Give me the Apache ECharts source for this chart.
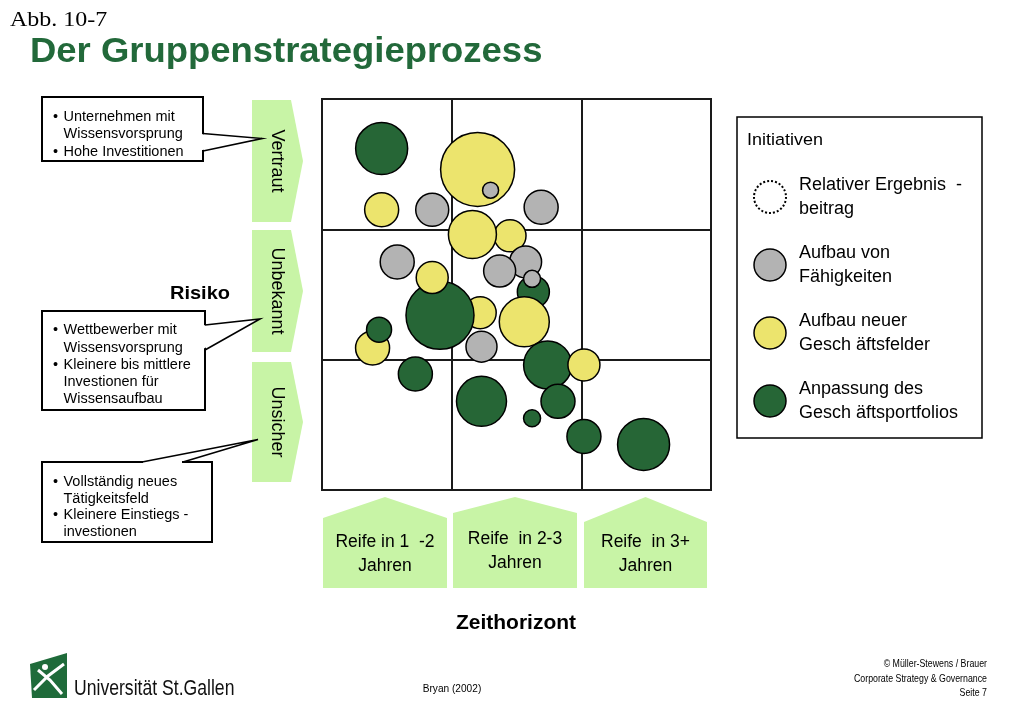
<!DOCTYPE html>
<html><head><meta charset="utf-8">
<script src="https://cdn.jsdelivr.net/npm/echarts@6.0.0/dist/echarts.min.js"></script>
<style>html,body{margin:0;padding:0;background:#fff;}#main{width:1023px;height:708px;}</style>
</head><body><div id="main"></div>
<script>
// ---------------- data ----------------
const categories = ['Relativer Ergebnis  -\nbeitrag', 'Aufbau von\nFähigkeiten', 'Aufbau neuer\nGesch äftsfelder', 'Anpassung des\nGesch äftsportfolios'];
const xLabels = ['Reife in 1  -2\nJahren', 'Reife  in 2-3\nJahren', 'Reife  in 3+\nJahren'];
const yLabels = ['Unsicher', 'Unbekannt', 'Vertraut']; // bottom to top
const xTitle = 'Zeithorizont';
const yTitle = 'Risiko';
const legendTitle = 'Initiativen';
// Initiatives in drawing order: Zeithorizont (0-3), Risiko (0-3), relativer Ergebnisbeitrag, Typ (1 Fähigkeiten, 2 Geschäftsfelder, 3 Portfolio)
const initZeit    = [0.46,0.46,0.85,1.20,1.30,1.69,1.45,1.16,0.58,1.57,1.37,1.63,1.62,1.22,0.91,0.85,1.56,0.39,0.44,1.23,1.74,2.02,1.82,0.72,1.23,1.62,2.02,2.48];
const initRisiko  = [2.62,2.15,2.15,2.46,2.30,2.17,1.95,1.96,1.75,1.75,1.68,1.52,1.62,1.36,1.34,1.63,1.29,1.09,1.23,1.10,0.96,0.96,0.68,0.89,0.68,0.55,0.41,0.35];
const initBeitrag = [26,17,16.5,37,8,17,16,24,17,16,16,16,8.5,16,34,16,25,17,12.5,15.5,24,16,17,17,25,8.5,17,26];
const initTyp     = [3,2,1,2,1,1,2,2,1,1,1,3,1,2,3,2,2,2,3,1,3,2,3,3,3,3,3,3];
const calloutTexts = [
  [['•','Unternehmen mit'],['','Wissensvorsprung'],['•','Hohe Investitionen']],
  [['•','Wettbewerber mit'],['','Wissensvorsprung'],['•','Kleinere bis mittlere'],['','Investionen für'],['','Wissensaufbau']],
  [['•','Vollständig neues'],['','Tätigkeitsfeld'],['•','Kleinere Einstiegs -'],['','investionen']]
];

// ---------------- styles ----------------
const FONT = "'Liberation Sans', Arial, Helvetica, sans-serif";
const FILL = ['#ffffff', '#b3b3b3', '#ece46d', '#266636'];
const LG = '#c8f4a6';
const TITLE_GREEN = '#22693a';
const G = {left: 322, top: 99, width: 389, height: 391};

function T(x, y, text, size, o) {
  o = o || {};
  const st = {text: text, x: 0, y: 0, font: (o.bold ? 'bold ' : '') + size + 'px ' + (o.family || FONT),
    fill: o.fill || '#000', align: o.align || 'left', verticalAlign: o.va || 'middle'};
  if (o.lh) st.lineHeight = o.lh;
  return {type: 'text', x: x, y: y, rotation: o.rot || 0, scaleX: o.sx || 1, scaleY: o.sy || 1,
    z: 20, silent: true, style: st};
}

const gr = [];
// Title
gr.push(T(10, 20, 'Abb. 10-7', 24, {family: "'Liberation Serif', 'Times New Roman', serif", sy: 0.9}));
gr.push(T(30, 52, 'Der Gruppenstrategieprozess', 37, {bold: true, fill: TITLE_GREEN, sx: 0.985, sy: 0.95}));

// Left arrows (Risiko levels)
const arrowTop = [362, 230, 100], arrowBot = [482, 352, 222];
yLabels.forEach(function (lab, k) {
  const t = arrowTop[k], b = arrowBot[k], m = (t + b) / 2;
  gr.push({type: 'polygon', z: 5, silent: true, shape: {points: [[252, t], [291, t], [303, m], [291, b], [252, b]]}, style: {fill: LG}});
  gr.push(T(277, m, lab, 18, {rot: -Math.PI / 2, align: 'center'}));
});
gr.push(T(200, 294, yTitle, 20, {bold: true, align: 'center', sy: 0.95}));

// Bottom house shapes (Zeithorizont)
const houseL = [323, 453, 584], houseR = [447, 577, 707], houseSh = [518, 513, 522], houseTxtY = [554, 551, 554];
xLabels.forEach(function (lab, k) {
  const l = houseL[k], r = houseR[k], c = (l + r) / 2;
  gr.push({type: 'polygon', z: 5, silent: true, shape: {points: [[l, 588], [l, houseSh[k]], [c, 497], [r, houseSh[k]], [r, 588]]}, style: {fill: LG}});
  gr.push(T(c, houseTxtY[k], lab, 17.5, {align: 'center', lh: 24}));
});
gr.push(T(516, 624, xTitle, 21, {bold: true, align: 'center', sy: 0.92}));

// Callout boxes
const boxes = [
  {x: 42, y: 97, w: 161, h: 64, tip: [262, 138.5], a: [203, 133.5], b: [203, 151], side: 'r', ty: [116.5, 134, 151.5]},
  {x: 42, y: 311, w: 163, h: 99, tip: [260, 319], a: [205, 325], b: [205, 350], side: 'r', ty: [330, 347.5, 364.5, 381.5, 398.5]},
  {x: 42, y: 462, w: 170, h: 80, tip: [258, 439.5], a: [142, 462], b: [183, 462], side: 't', ty: [481.5, 498.5, 515, 532]}
];
boxes.forEach(function (bx, k) {
  gr.push({type: 'rect', z: 6, silent: true, shape: {x: bx.x, y: bx.y, width: bx.w, height: bx.h}, style: {fill: '#fff', stroke: '#000', lineWidth: 2}});
  let cover;
  if (bx.side === 'r') {
    cover = [[bx.a[0] - 3, bx.a[1] + 0.5], bx.tip, [bx.b[0] - 3, bx.b[1] - 0.5]];
  } else {
    cover = [[bx.a[0] + 1, bx.a[1] + 3], [bx.a[0] + 1, bx.a[1] - 1], bx.tip, [bx.b[0] - 1, bx.b[1] - 1], [bx.b[0] - 1, bx.b[1] + 3]];
  }
  gr.push({type: 'polygon', z: 7, silent: true, shape: {points: cover}, style: {fill: '#fff'}});
  gr.push({type: 'polyline', z: 8, silent: true, shape: {points: [bx.a, bx.tip, bx.b]}, style: {stroke: '#000', lineWidth: 1.6, fill: null}});
  calloutTexts[k].forEach(function (ln, i) {
    if (ln[0]) gr.push(T(bx.x + 11, bx.ty[i], ln[0], 14.5, {sy: 1.05}));
    gr.push(T(bx.x + 21.5, bx.ty[i], ln[1], 14.5, {sy: 1.05}));
  });
});

// Legend frame
gr.push({type: 'rect', z: 1, silent: true, shape: {x: 737, y: 117, width: 245, height: 321}, style: {fill: '#fff', stroke: '#000', lineWidth: 1.5}});
gr.push(T(747, 140, legendTitle, 18, {sy: 0.95}));

// Footer
gr.push({type: 'polygon', z: 5, silent: true, shape: {points: [[30, 664], [67, 653], [67, 698], [32, 698]]}, style: {fill: '#1f6b3a'}});
gr.push({type: 'polyline', z: 6, silent: true, shape: {points: [[34, 690], [48, 676], [64, 664]]}, style: {stroke: '#fff', lineWidth: 3, fill: null}});
gr.push({type: 'polyline', z: 6, silent: true, shape: {points: [[38, 670], [50, 680], [62, 694]]}, style: {stroke: '#fff', lineWidth: 3, fill: null}});
gr.push({type: 'circle', z: 6, silent: true, shape: {cx: 45, cy: 667, r: 3}, style: {fill: '#fff'}});
gr.push(T(74, 689, 'Universität St.Gallen', 22, {sx: 0.8, fill: '#111'}));
gr.push(T(452, 689, 'Bryan (2002)', 11, {align: 'center', sx: 0.92}));
gr.push(T(987, 664, '© Müller-Stewens / Brauer', 11, {align: 'right', sx: 0.8}));
gr.push(T(987, 679, 'Corporate Strategy & Governance', 11, {align: 'right', sx: 0.8}));
gr.push(T(987, 693, 'Seite 7', 11, {align: 'right', sx: 0.8}));

// ---------------- chart ----------------
const bubbleData = initZeit.map(function (x, i) {
  return {value: [x, initRisiko[i], initBeitrag[i]], itemStyle: {color: FILL[initTyp[i]]}};
});
const axisCommon = {type: 'value', min: 0, max: 3, interval: 1,
  axisLabel: {show: false}, axisTick: {show: false}, axisLine: {show: false},
  splitLine: {show: true, lineStyle: {color: '#1a1a1a', width: 2}}};

const legendSeries = categories.map(function (c, k) {
  return {type: 'scatter', name: c, data: [], itemStyle: {color: FILL[k], opacity: 1}};
});

const option = {
  animation: false,
  backgroundColor: '#ffffff',
  grid: {left: G.left, top: G.top, width: G.width, height: G.height, show: true, borderColor: '#1a1a1a', borderWidth: 2},
  xAxis: Object.assign({}, axisCommon),
  yAxis: Object.assign({}, axisCommon),
  legend: {
    orient: 'vertical', left: 753, top: 173, padding: 0, itemGap: 20, itemWidth: 32, itemHeight: 32,
    selectedMode: false, z: 10,
    textStyle: {fontSize: 18, lineHeight: 24, fontFamily: FONT, color: '#000', padding: [0, 0, 0, 8]},
    data: categories.map(function (c, k) {
      return {name: c, icon: 'circle', itemStyle: k === 0
        ? {color: '#fff', borderColor: '#000', borderWidth: 2, borderType: 'dotted', opacity: 1}
        : {color: FILL[k], borderColor: '#000', borderWidth: 1.5, opacity: 1}};
    })
  },
  series: [{
    type: 'scatter', name: 'Initiativen', z: 3,
    data: bubbleData,
    symbol: 'circle',
    symbolSize: function (v) { return v[2] * 2; },
    itemStyle: {borderColor: '#000', borderWidth: 1.5, opacity: 1},
    emphasis: {disabled: true}
  }].concat(legendSeries),
  graphic: {elements: gr}
};
const chart = echarts.init(document.getElementById('main'));
chart.setOption(option);
</script>
</body></html>
